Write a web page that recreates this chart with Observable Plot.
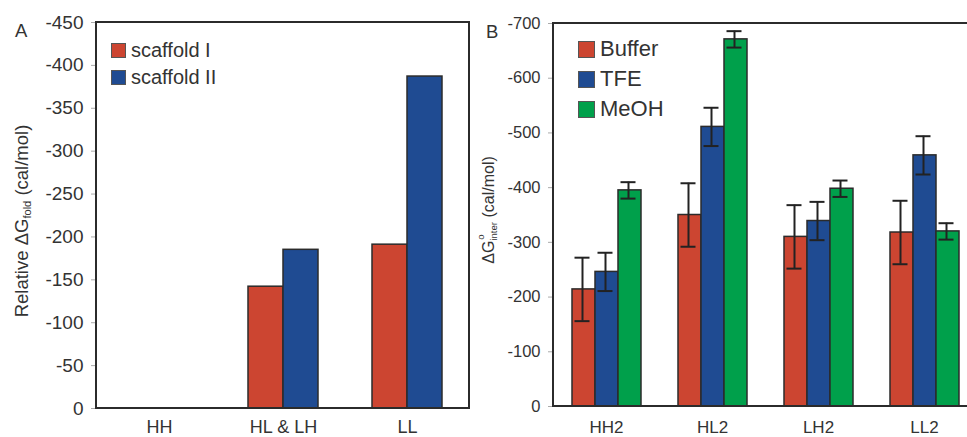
<!DOCTYPE html>
<html>
<head>
<meta charset="utf-8">
<script src="https://cdn.jsdelivr.net/npm/d3@7"></script>
<script src="https://cdn.jsdelivr.net/npm/@observablehq/plot@0.6"></script>
<style>
  html, body { margin: 0; padding: 0; background: #fff; overflow: hidden; }
  body { width: 967px; height: 437px; position: relative; font-family: "Liberation Sans", Arial, sans-serif; color: #333; }
  .panel { position: absolute; top: 0; }
  .lbl { position: absolute; white-space: nowrap; color: #333; }
  .rot { transform: translate(-50%, -50%) rotate(-90deg); }
  .leg { position: absolute; white-space: nowrap; color: #333; }
  .leg .row { position: absolute; left: 0; display: flex; align-items: center; }
  .leg .sw { display: inline-block; box-sizing: border-box; border: 1px solid #555; }
  .pa [aria-label^="y-axis"] text, .pb [aria-label^="y-axis"] text { fill: #333; }
  .pa [aria-label^="y-axis"] text { font-size: 19px; }
  .pb [aria-label^="y-axis"] text { font-size: 16.5px; }
  .pa [aria-label^="fx-axis"] text { font-size: 18px; fill: #333; }
  .pb [aria-label^="fx-axis"] text { font-size: 17px; fill: #333; }
  [aria-label^="y-axis"] path, [aria-label^="y-axis"] line { stroke: #aaa; }
</style>
</head>
<body>
<script>
// ---------- Panel A data ----------
const groupsA = ["HH", "HL & LH", "LL"];
const seriesA = ["scaffold I", "scaffold II"];
const scaffoldI = [0, -142, -191];
const scaffoldII = [0, -185, -387];
const ticksA = [0, -50, -100, -150, -200, -250, -300, -350, -400, -450];

// ---------- Panel B data ----------
const groupsB = ["HH2", "HL2", "LH2", "LL2"];
const seriesB = ["Buffer", "TFE", "MeOH"];
const buffer = [-214, -350, -310, -318];
const tfe = [-246, -511, -339, -459];
const meoh = [-395, -671, -398, -320];
const bufferErr = [58, 58, 58, 58];
const tfeErr = [35, 35, 35, 35];
const meohErr = [15, 15, 15, 15];
const ticksB = [0, -100, -200, -300, -400, -500, -600, -700];

const colors = ["#cc4531", "#1f4b92", "#00a04b"];

const rowsA = [];
groupsA.forEach((g, i) => {
  rowsA.push({group: g, series: seriesA[0], value: scaffoldI[i]});
  rowsA.push({group: g, series: seriesA[1], value: scaffoldII[i]});
});
const rowsB = [];
groupsB.forEach((g, i) => {
  rowsB.push({group: g, series: seriesB[0], value: buffer[i], err: bufferErr[i]});
  rowsB.push({group: g, series: seriesB[1], value: tfe[i], err: tfeErr[i]});
  rowsB.push({group: g, series: seriesB[2], value: meoh[i], err: meohErr[i]});
});

const fmt = d => String(d);

// ---------- Panel A ----------
const A = {width: 480, height: 437, ml: 96, mr: 11, mt: 22, mb: 29};
const plotA = Plot.plot({
  className: "pa",
  width: A.width, height: A.height,
  marginLeft: A.ml, marginRight: A.mr, marginTop: A.mt, marginBottom: A.mb,
  style: {fontFamily: "Liberation Sans, Arial, sans-serif", color: "#333", background: "transparent"},
  facet: {data: rowsA, x: "group", marginTop: 0, marginBottom: 0, marginLeft: 0, marginRight: 0},
  fx: {domain: groupsA, paddingInner: 0, paddingOuter: 0, label: null, axis: "bottom", tickSize: 0, tickPadding: 12},
  x: {domain: seriesA, axis: null, paddingInner: 0, paddingOuter: 0.726},
  y: {domain: [0, -450], ticks: 10, tickFormat: fmt, label: null, tickSize: 6, tickPadding: 8},
  color: {domain: seriesA, range: colors.slice(0, 2)},
  marks: [
    Plot.barY(rowsA, {x: "series", y1: 0, y2: "value", fill: "series", stroke: "#2b2b2b", strokeWidth: 1.5})
  ]
});
plotA.classList.add("panel");
plotA.style.left = "0px";
d3.select(plotA).append("rect")
  .attr("x", A.ml).attr("y", A.mt)
  .attr("width", A.width - A.ml - A.mr).attr("height", A.height - A.mt - A.mb)
  .attr("fill", "none").attr("stroke", "#2b2b2b").attr("stroke-width", 2);
document.body.appendChild(plotA);

// ---------- Panel B ----------
const B = {left: 480, width: 497, height: 437, ml: 73, mr: 0, mt: 23, mb: 31};
const plotB = Plot.plot({
  className: "pb",
  width: B.width, height: B.height,
  marginLeft: B.ml, marginRight: B.mr, marginTop: B.mt, marginBottom: B.mb,
  style: {fontFamily: "Liberation Sans, Arial, sans-serif", color: "#333", background: "transparent", overflow: "visible"},
  facet: {data: rowsB, x: "group", marginTop: 0, marginBottom: 0, marginLeft: 0, marginRight: 0},
  fx: {domain: groupsB, paddingInner: 0, paddingOuter: 0, label: null, axis: "bottom", tickSize: 0, tickPadding: 14},
  x: {domain: seriesB, axis: null, paddingInner: 0, paddingOuter: 0.739},
  y: {domain: [0, -700], ticks: 8, tickFormat: fmt, label: null, tickSize: 5, tickPadding: 8},
  color: {domain: seriesB, range: colors},
  marks: [
    Plot.barY(rowsB, {x: "series", y1: 0, y2: "value", fill: "series", stroke: "#2b2b2b", strokeWidth: 1.5}),
    Plot.ruleX(rowsB, {x: "series", y1: d => d.value - d.err, y2: d => d.value + d.err, stroke: "#222", strokeWidth: 2, dx: -1.5}),
    Plot.tickY(rowsB, {x: "series", y: d => d.value - d.err, stroke: "#222", strokeWidth: 2, insetLeft: 2.5, insetRight: 5.5}),
    Plot.tickY(rowsB, {x: "series", y: d => d.value + d.err, stroke: "#222", strokeWidth: 2, insetLeft: 2.5, insetRight: 5.5})
  ]
});
plotB.classList.add("panel");
plotB.style.left = B.left + "px";
d3.select(plotB).append("rect")
  .attr("x", B.ml).attr("y", B.mt)
  .attr("width", B.width - B.ml - B.mr).attr("height", B.height - B.mt - B.mb)
  .attr("fill", "none").attr("stroke", "#2b2b2b").attr("stroke-width", 2);
document.body.appendChild(plotB);

// ---------- Text overlays ----------
function addDiv(html, cls, css) {
  const d = document.createElement("div");
  d.className = cls;
  d.innerHTML = html;
  Object.assign(d.style, css);
  document.body.appendChild(d);
  return d;
}
addDiv("A", "lbl", {left: "15px", top: "20px", fontSize: "18.5px"});
addDiv("B", "lbl", {left: "486px", top: "21px", fontSize: "18.5px"});
addDiv('Relative ΔG<span style="font-size:0.6em;position:relative;top:0.25em">fold</span> (cal/mol)', "lbl rot",
  {left: "22px", top: "221px", fontSize: "18.5px"});
addDiv('ΔG<span style="position:relative;display:inline-block"><span style="position:absolute;left:0.1em;top:-0.5em;font-size:0.6em">o</span><span style="font-size:0.6em;position:relative;top:0.3em">inter</span></span> (cal/mol)', "lbl rot",
  {left: "489px", top: "210px", fontSize: "16px"});

// legends (built from series names and colors)
function legend(names, cols, left, top, sw, gap, fontSize, textGap) {
  const box = addDiv("", "leg", {left: left + "px", top: top + "px", fontSize: fontSize + "px"});
  names.forEach((n, i) => {
    const r = document.createElement("div");
    r.className = "row";
    r.style.top = (i * gap) + "px";
    r.innerHTML = `<span class="sw" style="width:${sw}px;height:${sw}px;background:${cols[i]}"></span><span style="margin-left:${textGap}px">${n}</span>`;
    box.appendChild(r);
  });
}
legend(seriesA, colors, 111, 39, 15, 27, 20, 5);
legend(seriesB, colors, 578, 36, 17, 30, 22, 5);
</script>
</body>
</html>
